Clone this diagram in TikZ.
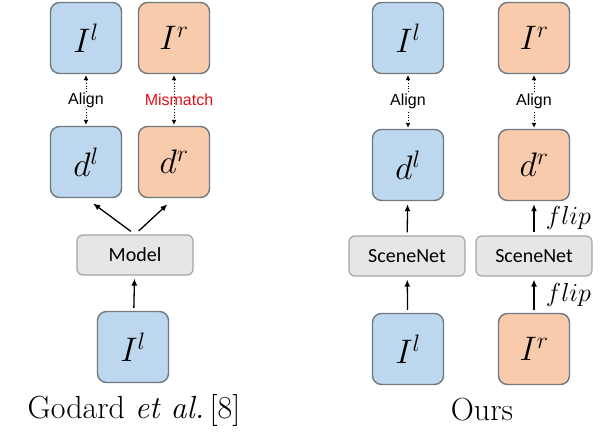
\documentclass[tikz,border=0pt]{standalone}
\usepackage{fix-cm}
\usepackage{amsmath}
\usepackage{fontspec}
\usepackage{tikz}
\usetikzlibrary{
	arrows.meta,
	positioning,
	calc
}
\usepackage{xcolor}

\newfontfamily\tagfont{Liberation Sans}
\newfontfamily\netfont{Carlito}
\definecolor{viewblue}{HTML}{BDD7EE}
\definecolor{vieworange}{HTML}{F8CBAD}
\definecolor{netfill}{HTML}{E7E6E6}
\definecolor{netedge}{HTML}{A5A5A5}
\definecolor{boxedge}{HTML}{707880}
\definecolor{mismatchred}{HTML}{E3101A}

\begin{document}
\begin{tikzpicture}[x=1pt, y=-1pt,
		imgbox/.style={draw=boxedge, line width=1.4pt, rounded corners=9pt,
			minimum width=71pt, minimum height=71pt, inner sep=0pt,
			font=\fontsize{34}{38}\selectfont},
		leftview/.style={imgbox, fill=viewblue},
		rightview/.style={imgbox, fill=vieworange},
		netbox/.style={draw=netedge, fill=netfill, line width=1.2pt, rounded corners=6pt,
			minimum width=116pt, minimum height=40pt, inner sep=0pt,
			font=\netfont\fontsize{20}{24}\selectfont},
		warp/.style={{Latex[length=5pt,width=5pt]}-{Latex[length=5pt,width=5pt]},
			dotted, line width=0.9pt, shorten <=1pt, shorten >=1pt},
		flow/.style={-{Latex[length=7pt,width=6pt]}, line width=1.3pt,
			shorten <=3pt, shorten >=3pt},
		tag/.style={font=\tagfont\fontsize{16}{18}\selectfont, inner sep=1pt},
		fliptag/.style={font=\fontsize{26}{30}\selectfont},
		caption/.style={font=\fontsize{32}{38}\selectfont}
	]
	
	\useasboundingbox (0,0) rectangle (605,434);
	
	% Godard et al.
	\node[leftview] (gIl) at (86,38) {$I^l$};
	\node[rightview] (gIr) at (174,38) {$I^r$};
	\node[leftview] (gdl) at (86,162) {$d^l$};
	\node[rightview] (gdr) at (174,162) {$d^r$};
	\node[netbox] (model) at (135,255) {Model};
	\node[leftview] (gin) at (133,347) {$I^l$};
	\node[caption] (gcap) at (134,410) {Godard \textit{et al.}\,[8]};
	
	\draw[warp] (gIl) -- node[tag, fill=white] {Align} (gdl);
	\draw[warp] (gIr) -- node[tag, text=mismatchred, xshift=5pt] {Mismatch} (gdr);
	\draw[flow, shorten <=5pt, shorten >=9pt] (model.north) -- (gdl.south);
	\draw[flow, shorten <=5pt, shorten >=9pt] (model.north) -- (gdr.south);
	\draw[flow] (gin) -- (model);
	
	% Ours
	\node[leftview] (oIl) at (408,38) {$I^l$};
	\node[rightview] (oIr) at (534,38) {$I^r$};
	\node[leftview] (odl) at (408,165) {$d^l$};
	\node[rightview] (odr) at (534,165) {$d^r$};
	\node[netbox] (netl) at (407,256) {SceneNet};
	\node[netbox] (netr) at (534,256) {SceneNet};
	\node[leftview] (oinl) at (408,349) {$I^l$};
	\node[rightview] (oinr) at (534,349) {$I^r$};
	\node[caption] (ocap) at (482,410) {Ours};
	
	\draw[warp] (oIl) -- node[tag, fill=white] {Align} (odl);
	\draw[warp] (oIr) -- node[tag, fill=white] {Align} (odr);
	\draw[flow] (netl) -- (odl);
	\draw[flow] (netr) -- node[fliptag, right=8pt] {$flip$} (odr);
	\draw[flow] (oinl) -- (netl);
	\draw[flow] (oinr) -- node[fliptag, right=8pt] {$flip$} (netr);
	
\end{tikzpicture}
\end{document}
